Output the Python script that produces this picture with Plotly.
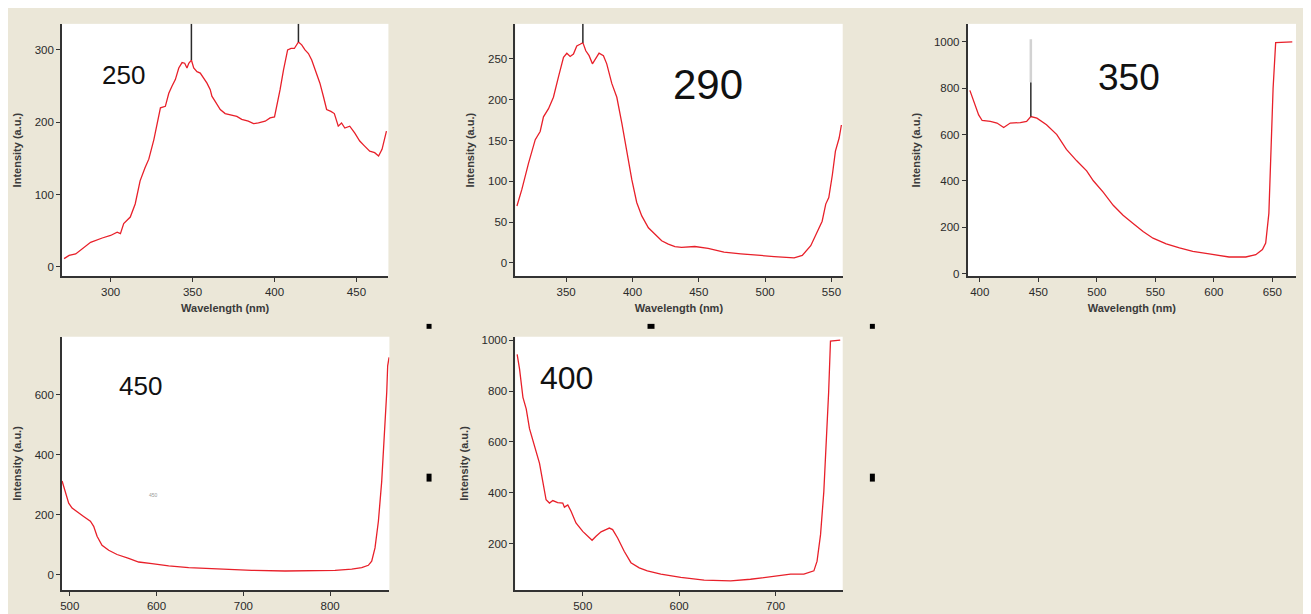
import plotly.graph_objects as go

# page has an 8px body margin, so the figure is drawn 8px right/down of the window origin
OFF = 8
W, H = 1311 - OFF, 614 - OFF

# ---------------- data ----------------
p1_x = [271.6, 274.7, 278.7, 283.8, 287.8, 294.9, 300, 304, 306, 308, 312, 315, 318, 321, 323.3, 326.4, 329.4,
        330.4, 333.4, 335.5, 337.5, 339.5, 341.6, 343.6, 345.2, 346.6, 347.7, 349.3, 350.7, 352.7, 354.7, 356.8,
        358.8, 360.8, 361.8, 363.8, 366.9, 369.9, 373, 377, 380, 384, 387.2, 390.2, 394.3, 397.3, 400, 401.4,
        403.4, 405.5, 408, 410.1, 412.1, 414.6, 416.6, 418.6, 420.7, 422.7, 424.7, 427.7, 429.8, 431.8, 434.4,
        436.5, 438.9, 440.9, 442.9, 445.9, 449, 452, 455, 458.1, 461.1, 463.5, 465.6, 468.3]
p1_y = [11.5, 16, 18, 26.6, 34, 40, 43.5, 48, 46, 60, 69, 87, 119, 137, 149, 176, 213,
        220, 222, 240, 250, 259, 275, 282.5, 281.6, 275, 281.6, 286, 275, 270, 268, 261,
        254, 245, 236, 229, 217.6, 212, 210.7, 208, 204, 201.5, 198, 199, 201.5, 206, 207.4, 222,
        245, 272.5, 300, 302, 302, 311, 307, 300, 295, 286, 272.5, 254, 236, 217.6, 215,
        212, 194.6, 199, 192, 194.6, 185, 174, 167, 160, 158, 153.4, 162.6, 187.8]

p2_x = [312.9, 316.6, 321.6, 326.7, 330.4, 332.9, 336.7, 340.4, 344.2, 348, 350.5, 353, 355.5, 358, 360.5, 362.6,
        364.8, 367.3, 369.8, 372.4, 374.8, 378.1, 380.6, 384.4, 388.2, 392, 395.7, 399.5, 403.2, 407, 412, 417,
        422, 427, 432, 437, 447, 457, 469, 481.7, 494, 506.8, 521.9, 528, 534.4, 539.5, 543, 545.7, 548, 550.7,
        553, 555.8, 557.5]
p2_y = [69.7, 90, 122, 151, 161, 179, 189, 203, 228, 252, 257, 253, 256, 266, 268, 270,
        260, 254, 244, 250, 257, 254, 244, 220, 203, 171, 134.5, 102, 74, 57.5, 43, 35,
        27, 23, 19.8, 19, 20, 17.8, 13, 11, 9, 7.7, 6, 9, 21, 39, 51, 72, 80, 108,
        137, 153, 169]

p3_x = [391.5, 395, 399, 402, 409, 414.7, 420.4, 426, 434.6, 440, 443.6, 448.8, 457, 465.8, 474, 482.8, 491.3,
        497, 505.4, 514, 522.4, 531, 539.5, 548, 559.3, 570.6, 582, 596, 613, 627.3, 635.8, 641.5, 644.3, 647,
        648.9, 650.6, 652.8, 667]
p3_y = [791, 742, 685, 661, 657, 650, 631, 650, 652, 657, 678, 671, 643, 600, 536, 487, 444,
        401, 352, 295, 252, 217, 182, 153, 129, 111, 96, 85, 72, 72, 82, 104, 132, 260,
        515, 799, 997, 1000]

p4_x = [491.2, 495, 498.8, 502.7, 508.4, 516, 523.8, 527.6, 531.5, 537.2, 544.9, 554.5, 567.9, 579.4, 594.7,
        614, 637, 671.5, 709.8, 748, 786.5, 805.7, 824.9, 836.4, 844, 847.9, 851.7, 855.6, 859.4, 863.2, 865.2,
        866.3, 867.9]
p4_y = [313, 278, 239, 223, 210, 195, 179, 162, 129, 99, 82, 68, 55, 43, 37.5,
        30, 24, 19, 15.4, 13, 13, 15.4, 19, 24, 32, 46, 90, 179, 311, 487, 609,
        697, 725]

p5_x = [432, 434.5, 438, 441.4, 444.8, 448.3, 451.7, 455.2, 458.6, 462, 465.5, 469, 474, 479.3, 481, 484.5, 488,
        493, 500, 505, 509.7, 513.8, 519, 524, 527.6, 531, 536.2, 543, 550, 558.6, 567, 581, 601.7, 625.9,
        653.4, 674, 694.8, 715.5, 729.3, 739.7, 743, 746.6, 750, 753.4, 755, 756.9, 767]
p5_y = [944, 886, 775, 730, 652, 606, 555, 516, 444, 373, 360, 370, 362, 360, 344, 353, 327,
        282, 249, 230, 214, 230, 247, 256, 262, 256, 223, 171, 126, 106, 94, 81, 68, 57.5,
        55, 61, 70, 81, 81, 94, 132, 236, 405, 665, 795, 996, 1000]

# excitation labels
labels = ["250", "290", "350", "450", "400"]

# cursor markers (panel, x position, lower y, upper y)
cursors = [(1, 349.3, 286, 336), (1, 414.6, 311, 336), (2, 362.6, 270, 293), (3, 443.6, 678, 826)]

# axis settings
x_ranges = [[270.3, 469.5], [311.6, 558.5], [389.5, 670.2], [491, 868.3], [430, 769.6]]
y_ranges = [[-13, 336], [-16.6, 293], [-11.5, 1078], [-51, 794], [18, 1013]]
x_dticks = [50, 50, 50, 100, 100]
y_dticks = [100, 50, 200, 200, 200]

# ---------------- layout geometry (window pixels) ----------------
boxes = [  # left, right, top, bottom
    (60, 387, 21, 276),
    (514, 842, 21, 276),
    (967, 1296, 21, 276),
    (60, 388, 337, 593),
    (514, 842, 337, 593),
]

BG = "#EBE7D8"
RED = "#E8202A"
AX = "#333333"
FONT = "Liberation Sans, Arial, sans-serif"


def fx(px):
    return (px - OFF) / W


def fy(py):
    return 1 - (py - OFF) / H


series = [(p1_x, p1_y), (p2_x, p2_y), (p3_x, p3_y), (p4_x, p4_y), (p5_x, p5_y)]

fig = go.Figure()
layout = dict(
    width=W, height=H,
    margin=dict(l=0, r=0, t=0, b=0),
    paper_bgcolor=BG, plot_bgcolor="white",
    showlegend=False,
    font=dict(family=FONT, color=AX),
)

for i, ((xs, ys), (l, r, t, b)) in enumerate(zip(series, boxes)):
    n = i + 1
    xa = "x" if n == 1 else f"x{n}"
    ya = "y" if n == 1 else f"y{n}"
    fig.add_trace(go.Scatter(x=xs, y=ys, mode="lines", line=dict(color=RED, width=1.3),
                             xaxis=xa, yaxis=ya, hoverinfo="skip"))
    xkey = "xaxis" if n == 1 else f"xaxis{n}"
    ykey = "yaxis" if n == 1 else f"yaxis{n}"
    xt = dict(text="<b>Wavelength (nm)</b>", font=dict(size=11, color="#3a3a3a"), standoff=7) if n <= 3 else None
    layout[xkey] = dict(
        domain=[fx(l), fx(r)], range=x_ranges[i], anchor=ya,
        showgrid=False, zeroline=False, showline=True, linecolor=AX, linewidth=1.5,
        ticks="outside", ticklen=4, tickcolor=AX, tickwidth=1.3, dtick=x_dticks[i], tick0=0,
        tickfont=dict(size=11.5, color="#2a2a2a"),
        title=xt,
    )
    layout[ykey] = dict(
        domain=[fy(b), fy(t)], range=y_ranges[i], anchor=xa,
        showgrid=False, zeroline=False, showline=True, linecolor=AX, linewidth=1.5,
        ticks="outside", ticklen=4, tickcolor=AX, tickwidth=1.3, dtick=y_dticks[i], tick0=0,
        tickfont=dict(size=11.5, color="#2a2a2a"),
        title=dict(text="<b>Intensity (a.u.)</b>", font=dict(size=11, color="#3a3a3a"), standoff=11),
    )

shapes = []
# cursor lines
for (n, cx, y0, y1) in cursors:
    xr = "x" if n == 1 else f"x{n}"
    yr = "y" if n == 1 else f"y{n}"
    shapes.append(dict(type="line", xref=xr, yref=yr, x0=cx, x1=cx, y0=y0, y1=y1,
                       line=dict(color="#2b2b2b", width=1.5)))
# faint readout above panel-3 cursor
shapes.append(dict(type="line", xref="x3", yref="y3", x0=443.6, x1=443.6, y0=826, y1=1012,
                   line=dict(color="#d2d2d2", width=2.5)))
# selection handles
handles = [(427.7, 326.5, 5, 5), (650, 326.5, 7, 5), (871.7, 326.5, 5, 5), (427.7, 479.3, 5, 8), (871.7, 479.3, 5, 8)]
for (cx, cy, w, h) in handles:
    shapes.append(dict(type="rect", xref="paper", yref="paper",
                       x0=fx(cx - w / 2), x1=fx(cx + w / 2),
                       y0=fy(cy + h / 2), y1=fy(cy - h / 2),
                       fillcolor="black", line=dict(width=0)))
layout["shapes"] = shapes

label_pos = [(122, 73, 26), (707, 82, 42), (1129, 75, 37), (139, 387, 26), (565, 379, 32)]
ann = []
for txt, (px, py, fs) in zip(labels, label_pos):
    ann.append(dict(text=txt, xref="paper", yref="paper", x=fx(px), y=fy(py),
                    xanchor="center", yanchor="middle", showarrow=False,
                    font=dict(size=fs, color="#111111", family=FONT)))
ann.append(dict(text="450", xref="paper", yref="paper", x=fx(145), y=fy(502), showarrow=False,
                font=dict(size=5, color="#9a9a9a")))
layout["annotations"] = ann

fig.update_layout(**layout)
fig.write_html("out.html")
